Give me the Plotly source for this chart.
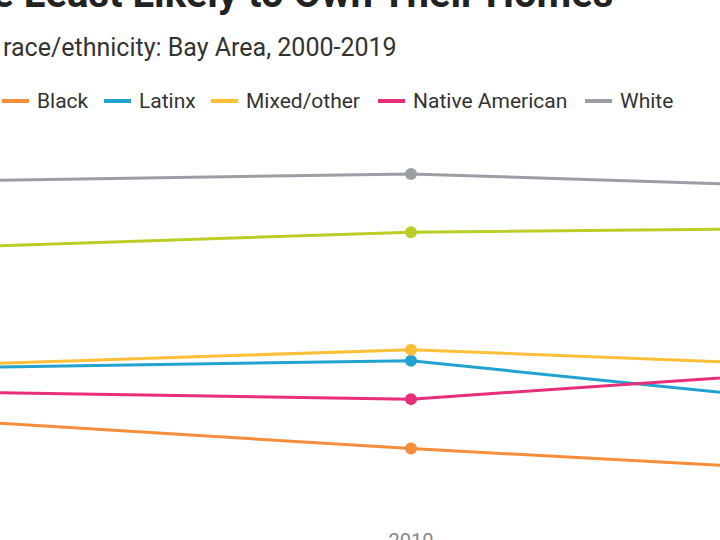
import plotly.graph_objects as go

years = [2000, 2010, 2019]
groups = ["Asian", "Black", "Latinx", "Mixed/other", "Native American", "White"]
colors = ["#bccd27", "#f78c3b", "#22a2cf", "#fbbf3a", "#e72e7a", "#9b9ea4"]
asian = [56.2, 57.7, 58.1]
black = [40.8, 38.0, 35.8]
latinx = [45.3, 46.0, 41.8]
mixed = [45.5, 47.0, 45.4]
native = [43.2, 42.5, 45.3]
white = [62.3, 63.0, 61.7]
series = [asian, black, latinx, mixed, native, white]

# layout: legend entry start positions (px)
legend_x = [-100, 2, 104, 211, 378, 585]
legend_y = 101

W, H = 720, 540
T, B = 130, 13
PH = H - T - B

def py(p):
    return (H - B - p) / PH

fig = go.Figure()
for name, col, vals in zip(groups, colors, series):
    fig.add_trace(go.Scatter(
        x=years, y=vals, name=name, mode="lines+markers",
        line=dict(color=col, width=3),
        marker=dict(color=col, size=12),
        showlegend=False,
    ))

shapes = []
annotations = [
    dict(text="<b>Black Residents Are the Least Likely to Own Their Homes</b>",
         xref="paper", yref="paper", x=615 / W, y=py(-6), xanchor="right",
         yanchor="middle", showarrow=False,
         font=dict(size=40, color="#222222", family="Roboto")),
    dict(text="Homeownership rate by race/ethnicity: Bay Area, 2000-2019",
         xref="paper", yref="paper", x=399 / W, y=py(48), xanchor="right",
         yanchor="middle", showarrow=False,
         font=dict(size=25, color="#333333", family="Roboto")),
]
for name, col, lx in zip(groups, colors, legend_x):
    shapes.append(dict(type="line", xref="paper", yref="paper",
                       x0=lx / W, x1=(lx + 27) / W, y0=py(legend_y), y1=py(legend_y),
                       line=dict(color=col, width=4)))
    annotations.append(dict(text=name, xref="paper", yref="paper",
                            x=(lx + 33) / W, y=py(legend_y), xanchor="left",
                            yanchor="middle", showarrow=False,
                            font=dict(size=21, color="#333333", family="Roboto")))

fig.update_layout(
    width=W, height=H,
    margin=dict(l=0, r=0, t=T, b=B, autoexpand=False),
    paper_bgcolor="white", plot_bgcolor="white",
    font=dict(family="Roboto", color="#333333"),
    showlegend=False,
    xaxis=dict(range=[2010 - 411 / 50, 2010 + 309 / 50], tickvals=years,
               ticktext=[str(y) for y in years], showgrid=False, zeroline=False,
               showline=False, ticks="", tickfont=dict(size=20, color="#888888"),
               automargin=False),
    yaxis=dict(range=[30.86, 67], showgrid=False, zeroline=False,
               showticklabels=False, showline=False, automargin=False),
    shapes=shapes,
    annotations=annotations,
)

fig.write_html("out.html", config={"displayModeBar": False},
               post_script="document.body.style.margin='0';")
